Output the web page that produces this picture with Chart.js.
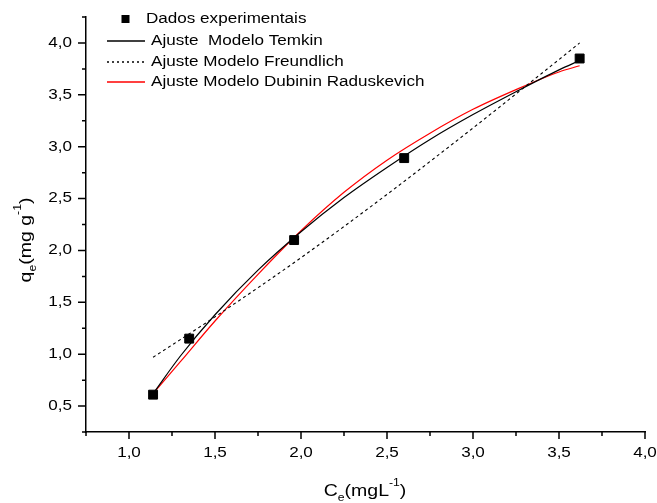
<!DOCTYPE html>
<html>
<head>
<meta charset="utf-8">
<script src="https://cdn.jsdelivr.net/npm/chart.js@4"></script>
<style>
  html, body { margin: 0; padding: 0; background: #fff; }
  #wrap { width: 657px; height: 503px; }
</style>
</head>
<body>
<div id="wrap"><canvas id="chart" width="657" height="503"></canvas></div>
<script>
// experimental points
const expC = [1.14, 1.35, 1.96, 2.60, 3.62];
const expQ = [0.61, 1.15, 2.10, 2.89, 3.85];

// fitted curves
const fitC = [1.14, 1.3, 1.5, 1.75, 2.0, 2.25, 2.5, 2.75, 3.0, 3.25, 3.5, 3.62];
const temkinQ = [0.62, 0.985, 1.38, 1.81, 2.18, 2.51, 2.80, 3.07, 3.31, 3.53, 3.74, 3.83];
const drQ = [0.62, 0.93, 1.32, 1.77, 2.19, 2.56, 2.87, 3.13, 3.36, 3.55, 3.72, 3.78];
const freundC = [1.14, 1.5, 2.0, 2.5, 3.0, 3.5, 3.62];
const freundQ = [0.97, 1.36, 1.93, 2.54, 3.18, 3.84, 4.00];

const xTicks = [1.0, 1.5, 2.0, 2.5, 3.0, 3.5, 4.0];
const yTicks = [0.5, 1.0, 1.5, 2.0, 2.5, 3.0, 3.5, 4.0];
const xMinor = [0.75, 1.25, 1.75, 2.25, 2.75, 3.25, 3.75];
const yMinor = [0.25, 0.75, 1.25, 1.75, 2.25, 2.75, 3.25, 3.75, 4.25];

const seriesNames = ["Dados experimentais", "Ajuste  Modelo Temkin", "Ajuste Modelo Freundlich", "Ajuste Modelo Dubinin Raduskevich"];
const seriesColors = ["#000000", "#000000", "#000000", "#ff0000"];

const FONT = '"Liberation Sans", Arial, sans-serif';
const SX = 1.22; // the original text is a bit wider than Arial

function pts(xs, ys) {
    return xs.map((x, i) => ({x: x, y: ys[i]}));
}

// draws a run of text pieces (for sub/superscripts), stretched a little in x
function richWidth(ctx, parts) {
    let w = 0;
    for (const p of parts) {
        ctx.font = p.size + "px " + FONT;
        w += ctx.measureText(p.t).width;
    }
    return w * SX;
}
function drawRich(ctx, parts, x, y, align) {
    let w = richWidth(ctx, parts);
    let start = x;
    if (align === "center") start = x - w / 2;
    if (align === "right") start = x - w;
    ctx.save();
    ctx.translate(start, y);
    ctx.scale(SX, 1);
    let cx = 0;
    for (const p of parts) {
        ctx.font = p.size + "px " + FONT;
        ctx.fillText(p.t, cx, p.dy || 0);
        cx += ctx.measureText(p.t).width;
    }
    ctx.restore();
}

const decorations = {
    id: "decorations",
    afterDraw(chart) {
        const ctx = chart.ctx;
        const xs = chart.scales.x;
        const ys = chart.scales.y;
        const left = chart.chartArea.left;
        const bottom = chart.chartArea.bottom;
        ctx.save();
        ctx.strokeStyle = "#000";
        ctx.fillStyle = "#000";
        ctx.lineWidth = 1.5;
        ctx.beginPath();
        xTicks.forEach(v => { let p = xs.getPixelForValue(v); ctx.moveTo(p, bottom); ctx.lineTo(p, bottom + 7); });
        xMinor.forEach(v => { let p = xs.getPixelForValue(v); ctx.moveTo(p, bottom); ctx.lineTo(p, bottom + 4); });
        yTicks.forEach(v => { let p = ys.getPixelForValue(v); ctx.moveTo(left, p); ctx.lineTo(left - 8, p); });
        yMinor.forEach(v => { let p = ys.getPixelForValue(v); ctx.moveTo(left, p); ctx.lineTo(left - 4, p); });
        ctx.stroke();

        // tick labels
        ctx.textBaseline = "middle";
        xTicks.forEach(v => {
            drawRich(ctx, [{t: v.toFixed(1).replace(".", ","), size: 14}], xs.getPixelForValue(v), 453, "center");
        });
        yTicks.forEach(v => {
            drawRich(ctx, [{t: v.toFixed(1).replace(".", ","), size: 14}], 72, ys.getPixelForValue(v), "right");
        });

        // axis titles
        ctx.textBaseline = "alphabetic";
        drawRich(ctx, [
            {t: "C", size: 16}, {t: "e", size: 10, dy: 5}, {t: "(mgL", size: 16},
            {t: "-1", size: 10, dy: -10}, {t: ")", size: 16}
        ], 365, 496, "center");
        ctx.save();
        ctx.translate(31, 240);
        ctx.rotate(-Math.PI / 2);
        drawRich(ctx, [
            {t: "q", size: 16}, {t: "e", size: 10, dy: 5}, {t: "(mg g", size: 16},
            {t: "-1", size: 10, dy: -10}, {t: ")", size: 16}
        ], 0, 0, "center");
        ctx.restore();

        // legend
        const rows = [19, 41, 62, 82];
        const dashes = [null, [], [2, 3], []];
        ctx.textBaseline = "middle";
        seriesNames.forEach((name, i) => {
            let y = rows[i];
            ctx.fillStyle = "#000";
            if (i === 0) {
                ctx.fillRect(121.5, y - 4, 8, 8);
                drawRich(ctx, [{t: name, size: 14}], 146, y, "left");
            } else {
                ctx.save();
                ctx.strokeStyle = seriesColors[i];
                ctx.lineWidth = 1.3;
                ctx.setLineDash(dashes[i]);
                ctx.beginPath();
                ctx.moveTo(107, y);
                ctx.lineTo(145, y);
                ctx.stroke();
                ctx.restore();
                drawRich(ctx, [{t: name, size: 14}], 151, y, "left");
            }
        });
        ctx.restore();
    }
};

new Chart("chart", {
    type: "scatter",
    data: {
        datasets: [
            {
                label: seriesNames[0],
                data: pts(expC, expQ),
                pointStyle: "rect",
                pointRadius: 6.3,
                backgroundColor: seriesColors[0],
                borderColor: seriesColors[0],
                borderWidth: 1,
                showLine: false
            },
            {
                label: seriesNames[1],
                data: pts(fitC, temkinQ),
                showLine: true,
                borderColor: seriesColors[1],
                borderWidth: 1.2,
                pointRadius: 0,
                cubicInterpolationMode: "monotone"
            },
            {
                label: seriesNames[2],
                data: pts(freundC, freundQ),
                showLine: true,
                borderColor: seriesColors[2],
                borderWidth: 1.1,
                borderDash: [3, 3],
                pointRadius: 0,
                cubicInterpolationMode: "monotone"
            },
            {
                label: seriesNames[3],
                data: pts(fitC, drQ),
                showLine: true,
                borderColor: seriesColors[3],
                borderWidth: 1.2,
                pointRadius: 0,
                cubicInterpolationMode: "monotone"
            }
        ]
    },
    options: {
        responsive: false,
        animation: false,
        events: [],
        layout: { padding: { top: 17, right: 12, left: 0, bottom: 0 } },
        plugins: {
            legend: { display: false },
            tooltip: { enabled: false }
        },
        scales: {
            x: {
                type: "linear",
                min: 0.75,
                max: 4.0,
                grid: { display: false },
                border: { display: true, color: "#000", width: 1.5 },
                ticks: { display: false },
                afterFit: (scale) => { scale.height = 71; }
            },
            y: {
                type: "linear",
                min: 0.25,
                max: 4.25,
                grid: { display: false },
                border: { display: true, color: "#000", width: 1.5 },
                ticks: { display: false },
                afterFit: (scale) => { scale.width = 86; }
            }
        }
    },
    plugins: [decorations]
});
</script>
</body>
</html>
